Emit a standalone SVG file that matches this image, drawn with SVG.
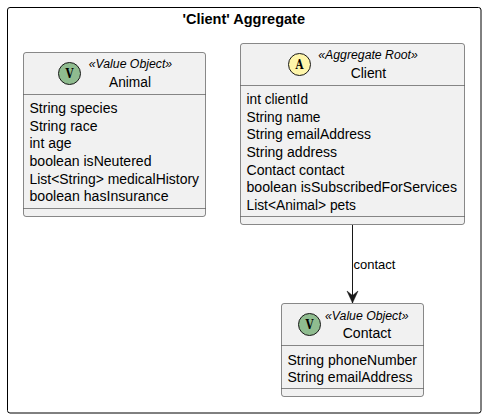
<svg xmlns="http://www.w3.org/2000/svg" width="485" height="418" viewBox="0 0 485 418">
<style>
text{font-family:"Liberation Sans",Arial,sans-serif;fill:#000}
.box{fill:#F1F1F1;stroke:#181818;stroke-width:.5}
.sep{stroke:#181818;stroke-width:.5;fill:none}
.m{font-size:14px}
.st{font-size:12px;font-style:italic}
.c{font-family:"DejaVu Serif",serif;font-size:12px;font-weight:bold;text-anchor:middle}
.circ{stroke:#181818;stroke-width:1}
</style>
<defs>
<marker id="arrow" markerUnits="userSpaceOnUse" markerWidth="14" markerHeight="16" refX="12" refY="7" orient="auto" overflow="visible">
<path d="M0,1.500 L12,7 L0,12.500 L4.500,7 Z" fill="#181818" stroke="#181818" stroke-width=".5"/>
</marker>
</defs>
<g id="package">
<rect x="7.5" y="7.5" width="473.5" height="405.5" rx="2.5" fill="none" stroke="#000" stroke-width="1"/>
<text x="182.500" y="24" font-size="14" font-weight="bold" textLength="122.500" lengthAdjust="spacingAndGlyphs">'Client' Aggregate</text>
</g>
<g id="connectors">
<line x1="352.500" y1="225" x2="352.500" y2="303" stroke="#181818" stroke-width="1" marker-end="url(#arrow)"/>
<text x="353.500" y="269" font-size="13">contact</text>
</g>
<g id="Animal">
<rect class="box" x="23.500" y="52.500" width="182" height="164" rx="2.500"/>
<circle class="circ" cx="69.500" cy="73.500" r="11" fill="#8FBC8F"/>
<text class="c" x="69.500" y="78" textLength="8" lengthAdjust="spacingAndGlyphs">V</text>
<text class="st" x="88.700" y="68" textLength="83.500" lengthAdjust="spacingAndGlyphs">«Value Object»</text>
<text class="m" x="109" y="87" textLength="42" lengthAdjust="spacingAndGlyphs">Animal</text>
<path class="sep" d="M23.500 94.500H205.500M23.500 208.500H205.500"/>
<text class="m" x="29.500" y="113" textLength="88" lengthAdjust="spacingAndGlyphs">String species</text>
<text class="m" x="29.500" y="131" textLength="68" lengthAdjust="spacingAndGlyphs">String race</text>
<text class="m" x="29.500" y="148" textLength="42" lengthAdjust="spacingAndGlyphs">int age</text>
<text class="m" x="29.500" y="166" textLength="122" lengthAdjust="spacingAndGlyphs">boolean isNeutered</text>
<text class="m" x="29.500" y="184" textLength="169.500" lengthAdjust="spacingAndGlyphs">List&lt;String&gt; medicalHistory</text>
<text class="m" x="29.500" y="201" textLength="139" lengthAdjust="spacingAndGlyphs">boolean hasInsurance</text>
</g>
<g id="Client">
<rect class="box" x="240.500" y="43.500" width="224" height="181" rx="2.500"/>
<circle class="circ" cx="299.500" cy="64.500" r="11" fill="#FFF6AA"/>
<text class="c" x="299.500" y="69" textLength="8" lengthAdjust="spacingAndGlyphs">A</text>
<text class="st" x="318.300" y="59" textLength="99.500" lengthAdjust="spacingAndGlyphs">«Aggregate Root»</text>
<text class="m" x="350.700" y="78" textLength="35.500" lengthAdjust="spacingAndGlyphs">Client</text>
<path class="sep" d="M240.500 85.500H464.500M240.500 216.500H464.500"/>
<text class="m" x="246.500" y="104" textLength="61.500" lengthAdjust="spacingAndGlyphs">int clientId</text>
<text class="m" x="246.500" y="122" textLength="74" lengthAdjust="spacingAndGlyphs">String name</text>
<text class="m" x="246.500" y="139" textLength="124.500" lengthAdjust="spacingAndGlyphs">String emailAddress</text>
<text class="m" x="246.500" y="157" textLength="90.500" lengthAdjust="spacingAndGlyphs">String address</text>
<text class="m" x="246.500" y="175" textLength="98" lengthAdjust="spacingAndGlyphs">Contact contact</text>
<text class="m" x="246.500" y="192" textLength="210.500" lengthAdjust="spacingAndGlyphs">boolean isSubscribedForServices</text>
<text class="m" x="246.500" y="210" textLength="109.500" lengthAdjust="spacingAndGlyphs">List&lt;Animal&gt; pets</text>
</g>
<g id="Contact">
<rect class="box" x="281.500" y="303.500" width="142" height="93" rx="2.500"/>
<circle class="circ" cx="309.500" cy="324.500" r="11" fill="#8FBC8F"/>
<text class="c" x="309.500" y="329" textLength="8" lengthAdjust="spacingAndGlyphs">V</text>
<text class="st" x="325" y="320" textLength="83.500" lengthAdjust="spacingAndGlyphs">«Value Object»</text>
<text class="m" x="342.700" y="338" textLength="48.500" lengthAdjust="spacingAndGlyphs">Contact</text>
<path class="sep" d="M281.500 345.500H423.500M281.500 388.500H423.500"/>
<text class="m" x="287.500" y="365" textLength="129.500" lengthAdjust="spacingAndGlyphs">String phoneNumber</text>
<text class="m" x="287.500" y="382" textLength="125" lengthAdjust="spacingAndGlyphs">String emailAddress</text>
</g>
</svg>
